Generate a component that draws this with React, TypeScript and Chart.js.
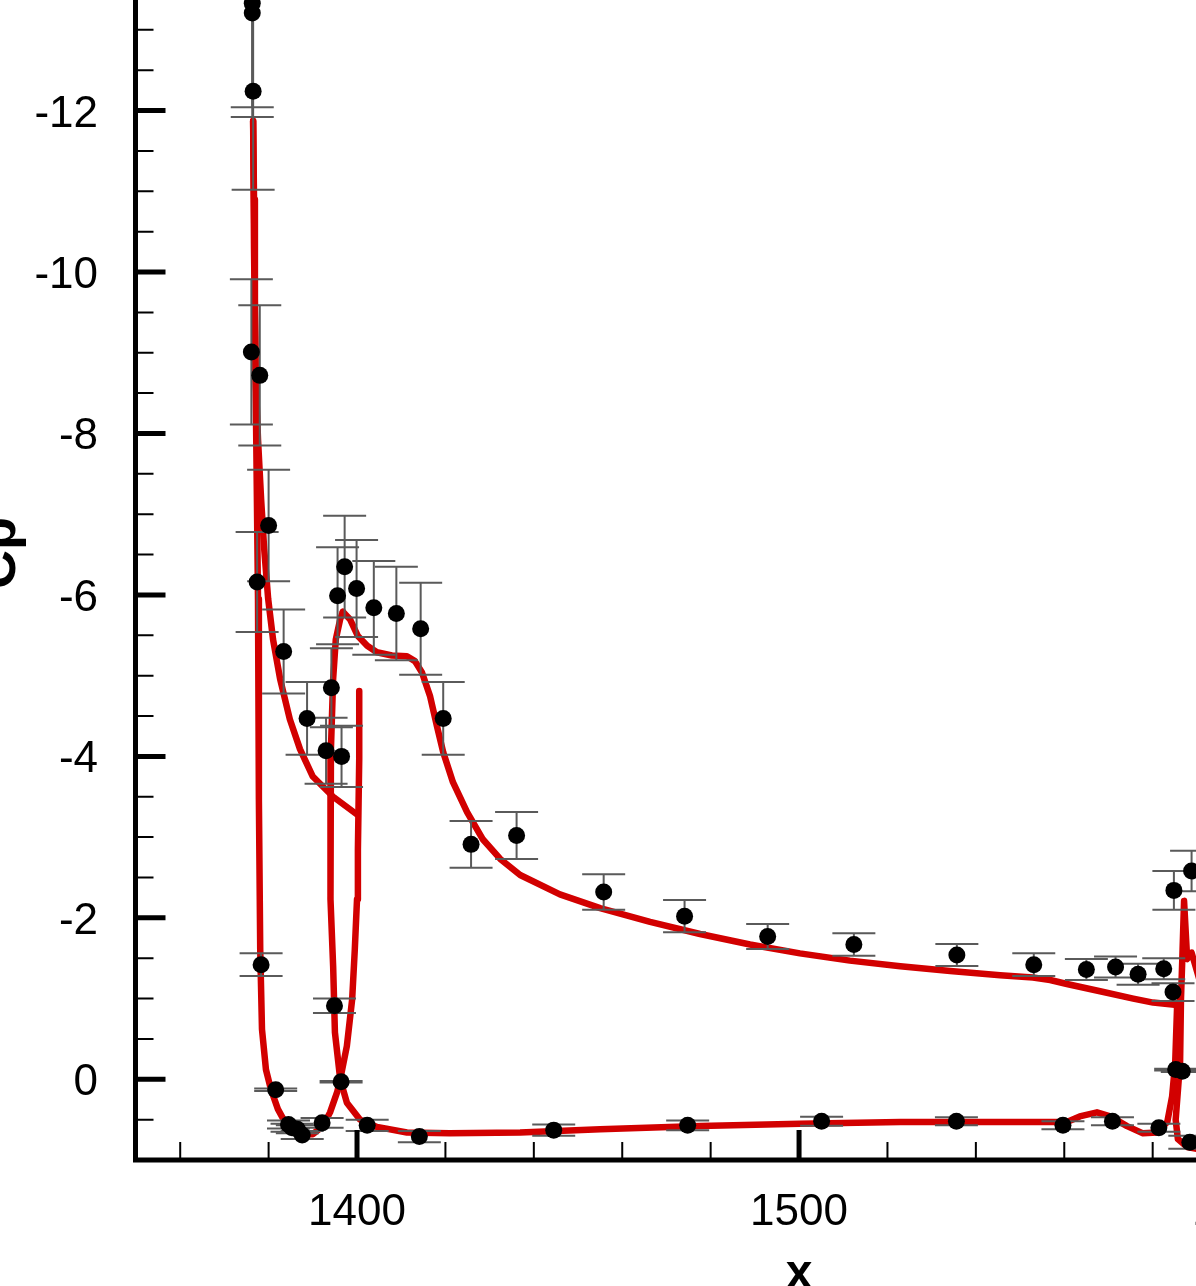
import React, { useEffect, useRef } from "react";
import { Chart, registerables, Plugin } from "chart.js";

Chart.register(...registerables);

const W = 1196;
const H = 1286;

// experiment (black dots) with error bar half-height
const expX = [1376.3, 1376.3, 1376.5, 1376.1, 1378.0, 1377.4, 1380.0, 1383.4, 1388.7, 1393.0, 1394.2, 1396.5, 1395.6, 1397.2, 1399.9, 1403.8, 1408.9, 1414.4, 1419.5, 1425.8, 1436.1, 1455.8, 1474.1, 1492.9, 1512.4, 1535.7, 1553.1, 1565.0, 1571.6, 1576.7, 1582.5, 1584.6, 1584.8, 1588.8, 1585.2, 1586.7, 1588.4, 1559.7, 1570.9, 1581.4, 1535.6, 1505.1, 1474.8, 1444.5, 1414.1, 1402.3, 1396.4, 1394.9, 1392.1, 1384.5, 1385.3, 1386.5, 1387.6, 1381.6, 1378.3];
const expCp = [-13.33, -13.21, -12.24, -9.01, -8.72, -6.16, -6.86, -5.3, -4.47, -4.07, -4.85, -4.0, -5.99, -6.35, -6.08, -5.84, -5.77, -5.58, -4.47, -2.91, -3.02, -2.32, -2.02, -1.77, -1.67, -1.54, -1.42, -1.36, -1.39, -1.3, -1.37, -1.08, -2.34, -2.58, -0.12, -0.1, 0.78, 0.57, 0.52, 0.6, 0.52, 0.52, 0.57, 0.63, 0.71, 0.57, 0.03, -0.91, 0.54, 0.56, 0.6, 0.62, 0.69, 0.13, -1.42];
const expErr = [1.41, 1.17, 1.22, 0.9, 0.87, 0.62, 0.69, 0.52, 0.45, 0.41, 0.49, 0.38, 0.6, 0.63, 0.6, 0.58, 0.58, 0.57, 0.45, 0.29, 0.29, 0.22, 0.2, 0.155, 0.14, 0.136, 0.14, 0.13, 0.13, 0.13, 0.13, 0.11, 0.24, 0.25, 0.01, 0.01, 0.08, 0.05, 0.05, 0.05, 0.05, 0.056, 0.06, 0.07, 0.07, 0.07, 0.01, 0.09, 0.06, 0.05, 0.05, 0.05, 0.05, 0.015, 0.14];

// computed Cp (red lines)
const slatUpperX = [1376.5, 1376.7, 1376.9, 1377.1, 1377.6, 1378.3, 1379.0, 1379.9, 1381.0, 1382.6, 1384.8, 1387.1, 1390.0, 1394.6, 1400.0];
const slatUpperCp = [-11.87, -10.9, -9.67, -8.67, -7.93, -7.19, -6.57, -5.95, -5.45, -4.96, -4.46, -4.09, -3.75, -3.5, -3.28];

const slatLowerX = [1376.5, 1376.7, 1377.1, 1377.6, 1377.8, 1378.1, 1378.5, 1379.4, 1380.5, 1382.1, 1384.2, 1387.1, 1390.0, 1392.3, 1393.9, 1395.5, 1396.2, 1397.7, 1398.9, 1399.5, 1400.0, 1400.2, 1400.5, 1400.5];
const slatLowerCp = [-11.87, -10.29, -8.43, -5.95, -3.47, -1.61, -0.62, -0.12, 0.12, 0.37, 0.58, 0.68, 0.68, 0.58, 0.41, 0.16, 0.0, -0.41, -0.99, -1.61, -2.23, -2.85, -3.97, -4.81];

const mainUpperX = [1396.8, 1398.4, 1400.2, 1402.3, 1404.5, 1407.9, 1411.3, 1413.1, 1414.7, 1416.5, 1418.1, 1419.5, 1421.7, 1424.9, 1428.5, 1432.4, 1436.9, 1445.9, 1455.0, 1466.3, 1477.6, 1488.9, 1500.2, 1511.5, 1522.9, 1534.2, 1545.5, 1552.9, 1556.8, 1560.6, 1568.1, 1575.6, 1580.1, 1585.5];
const mainUpperCp = [-5.79, -5.7, -5.49, -5.37, -5.29, -5.25, -5.24, -5.18, -5.04, -4.75, -4.37, -4.05, -3.68, -3.31, -2.97, -2.73, -2.53, -2.29, -2.12, -1.95, -1.8, -1.67, -1.56, -1.47, -1.4, -1.34, -1.29, -1.26, -1.23, -1.18, -1.09, -1.0, -0.95, -0.92];

const mainLowerX = [1396.8, 1396.2, 1395.2, 1394.6, 1394.1, 1393.9, 1394.1, 1394.6, 1395.0, 1396.2, 1397.7, 1400.7, 1404.5, 1411.3, 1421.0, 1436.9, 1455.0, 1477.6, 1500.2, 1522.9, 1545.5, 1554.5, 1560.6, 1563.5, 1567.4, 1570.4, 1574.2, 1577.8, 1581.0, 1583.3, 1584.4, 1585.1, 1585.5, 1585.5];
const mainLowerCp = [-5.79, -5.7, -5.45, -4.96, -4.09, -2.85, -2.23, -1.4, -0.58, 0.0, 0.29, 0.5, 0.59, 0.66, 0.67, 0.66, 0.62, 0.58, 0.55, 0.53, 0.53, 0.53, 0.53, 0.46, 0.41, 0.46, 0.58, 0.67, 0.66, 0.53, 0.21, -0.21, -0.87, -0.92];

const flapX = [1590.7, 1588.8, 1587.8, 1587.1, 1586.7, 1586.4, 1586.2, 1585.2, 1585.7, 1587.8, 1590.7];
const flapCp = [-1.21, -1.57, -1.49, -2.21, -1.49, -0.99, -0.21, 0.5, 0.74, 0.84, 0.87];

// axis ticks
const xMajorTicks = [1400, 1500, 1600];
const xMajorLabels = ["1400", "1500", "1600"];
const xMinorTicks = [1360, 1380, 1420, 1440, 1460, 1480, 1520, 1540, 1560, 1580];
const yMajorTicks = [-12, -10, -8, -6, -4, -2, 0];
const yMajorLabels = ["-12", "-10", "-8", "-6", "-4", "-2", "0"];
const yMinorTicks = [-13, -12.5, -11.5, -11, -10.5, -9.5, -9, -8.5, -7.5, -7, -6.5, -5.5, -5, -4.5, -3.5, -3, -2.5, -1.5, -1, -0.5, 0.5];

const RED = "rgb(210,0,0)";
const GRAY = "#5a5a5a";
const FONT = "'Liberation Sans', Arial, sans-serif";

const pts = (xs: number[], ys: number[]) => xs.map((x, i) => ({ x, y: ys[i] }));

const curve = (xs: number[], ys: number[]) => ({
  data: pts(xs, ys),
  showLine: true,
  borderColor: RED,
  borderWidth: 6.5,
  pointRadius: 0,
  tension: 0,
  borderJoinStyle: "round" as const,
  borderCapStyle: "round" as const,
});

const errorBars: Plugin = {
  id: "errorBars",
  beforeDatasetDraw(chart, args) {
    if (args.index !== 0) return;
    const { ctx, chartArea, scales } = chart;
    ctx.save();
    ctx.beginPath();
    ctx.rect(chartArea.left, chartArea.top, chartArea.right - chartArea.left, chartArea.bottom - chartArea.top);
    ctx.clip();
    ctx.strokeStyle = GRAY;
    ctx.lineWidth = 2;
    const half = 21.5;
    expX.forEach((x, i) => {
      const px = scales.x.getPixelForValue(x);
      const y1 = scales.y.getPixelForValue(expCp[i] - expErr[i]);
      const y2 = scales.y.getPixelForValue(expCp[i] + expErr[i]);
      ctx.beginPath();
      ctx.moveTo(px, y1);
      ctx.lineTo(px, y2);
      ctx.moveTo(px - half, y1);
      ctx.lineTo(px + half, y1);
      ctx.moveTo(px - half, y2);
      ctx.lineTo(px + half, y2);
      ctx.stroke();
    });
    ctx.restore();
  },
};

const axes: Plugin = {
  id: "axes",
  afterDraw(chart) {
    const { ctx, chartArea, scales } = chart;
    const left = chartArea.left - 0.5;
    const bottom = chartArea.bottom;
    ctx.save();
    ctx.strokeStyle = "#000";
    ctx.fillStyle = "#000";

    // minor ticks (inward)
    ctx.lineWidth = 2;
    ctx.beginPath();
    xMinorTicks.forEach((v) => {
      const px = scales.x.getPixelForValue(v);
      ctx.moveTo(px, bottom);
      ctx.lineTo(px, bottom - 18);
    });
    yMinorTicks.forEach((v) => {
      const py = scales.y.getPixelForValue(v);
      ctx.moveTo(left, py);
      ctx.lineTo(left + 18, py);
    });
    ctx.stroke();

    // major ticks
    ctx.lineWidth = 5;
    ctx.beginPath();
    xMajorTicks.forEach((v) => {
      const px = scales.x.getPixelForValue(v);
      ctx.moveTo(px, bottom);
      ctx.lineTo(px, bottom - 30);
    });
    yMajorTicks.forEach((v) => {
      const py = scales.y.getPixelForValue(v);
      ctx.moveTo(left, py);
      ctx.lineTo(left + 30, py);
    });
    ctx.stroke();

    // axis lines
    ctx.lineWidth = 5;
    ctx.beginPath();
    ctx.moveTo(left, 0);
    ctx.lineTo(left, bottom + 2.5);
    ctx.moveTo(left - 2.5, bottom);
    ctx.lineTo(W, bottom);
    ctx.stroke();

    // tick labels
    ctx.font = `44px ${FONT}`;
    ctx.textBaseline = "alphabetic";
    ctx.textAlign = "center";
    xMajorTicks.forEach((v, i) => {
      ctx.fillText(xMajorLabels[i], scales.x.getPixelForValue(v), bottom + 65);
    });
    ctx.textAlign = "right";
    yMajorTicks.forEach((v, i) => {
      ctx.fillText(yMajorLabels[i], 98, scales.y.getPixelForValue(v) + 16);
    });

    // axis titles
    ctx.font = `bold 48px ${FONT}`;
    ctx.textAlign = "center";
    ctx.fillText("x", scales.x.getPixelForValue(1500), 1288);
    ctx.save();
    ctx.translate(15, 553);
    ctx.rotate(-Math.PI / 2);
    ctx.font = `bold 54px ${FONT}`;
    ctx.fillText("Cp", 0, 0);
    ctx.restore();

    ctx.restore();
  },
};

export default function App() {
  const canvasRef = useRef<HTMLCanvasElement>(null);

  useEffect(() => {
    document.body.style.margin = "0";
    const chart = new Chart(canvasRef.current!, {
      type: "scatter",
      data: {
        datasets: [
          {
            data: pts(expX, expCp),
            pointRadius: 8.5,
            pointBackgroundColor: "#000",
            pointBorderColor: "#000",
            pointBorderWidth: 0,
          },
          curve(slatUpperX, slatUpperCp),
          curve(slatLowerX, slatLowerCp),
          curve(mainUpperX, mainUpperCp),
          curve(mainLowerX, mainLowerCp),
          curve(flapX, flapCp),
        ],
      },
      options: {
        animation: false,
        responsive: false,
        events: [],
        layout: { autoPadding: false, padding: { left: 136, right: 0, top: 0, bottom: 126 } },
        scales: {
          x: { type: "linear", min: 1350, max: 1589.8, display: false },
          y: { type: "linear", min: -13.37, max: 1, reverse: true, display: false },
        },
        plugins: {
          legend: { display: false },
          tooltip: { enabled: false },
        },
      },
      plugins: [errorBars, axes],
    });
    return () => chart.destroy();
  }, []);

  return <canvas ref={canvasRef} width={W} height={H} style={{ display: "block" }} />;
}
